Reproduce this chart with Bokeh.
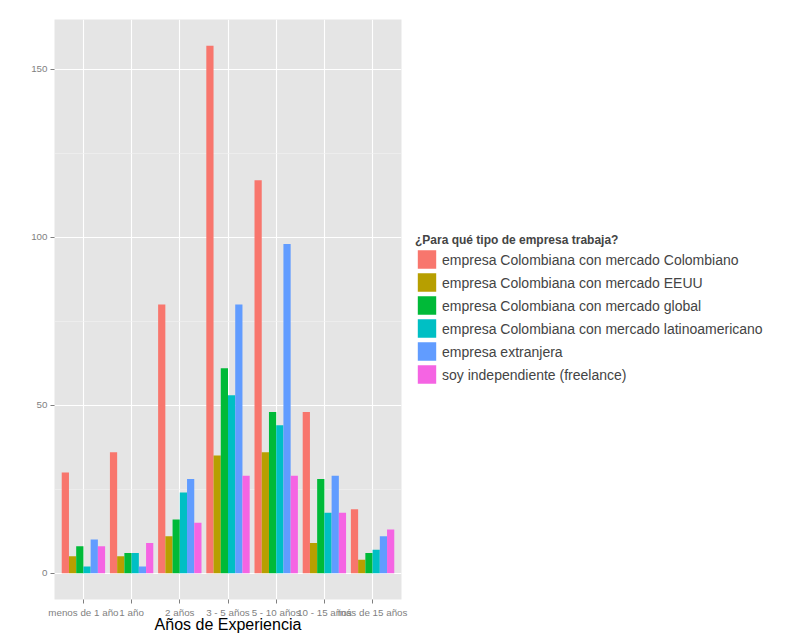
from bokeh.plotting import figure
from bokeh.models import Range1d, FixedTicker, Legend, LegendItem, ColumnDataSource
from bokeh.transform import dodge
from bokeh.embed import file_html
from bokeh.resources import INLINE

categories = ["menos de 1 año", "1 año", "2 años", "3 - 5 años",
              "5 - 10 años", "10 - 15 años", "más de 15 años"]
series_names = ["empresa Colombiana con mercado Colombiano",
                "empresa Colombiana con mercado EEUU",
                "empresa Colombiana con mercado global",
                "empresa Colombiana con mercado latinoamericano",
                "empresa extranjera",
                "soy independiente (freelance)"]
col_colombiano = [30, 36, 80, 157, 117, 48, 19]
col_eeuu = [5, 5, 11, 35, 36, 9, 4]
col_global = [8, 6, 16, 61, 48, 28, 6]
col_latam = [2, 6, 24, 53, 44, 18, 7]
extranjera = [10, 2, 28, 80, 98, 29, 11]
freelance = [8, 9, 15, 29, 29, 18, 13]
y_ticks = [0, 50, 100, 150]
colors = ["#F8766D", "#B79F00", "#00BA38", "#00BFC4", "#619CFF", "#F564E3"]

series = [col_colombiano, col_eeuu, col_global, col_latam, extranjera, freelance]
xpos = list(range(1, len(categories) + 1))
src = ColumnDataSource(dict(x=xpos, s0=series[0], s1=series[1], s2=series[2],
                            s3=series[3], s4=series[4], s5=series[5]))

ymax = max(max(s) for s in series)
pad = ymax * 0.05

p = figure(frame_width=347, frame_height=580,
           x_range=Range1d(0.4, len(categories) + 0.6),
           y_range=Range1d(-pad, ymax + pad),
           output_backend="svg", toolbar_location=None,
           min_border_left=54, min_border_top=19, min_border_bottom=40,
           min_border_right=10)
p.background_fill_color = "#E5E5E5"
p.border_fill_color = "white"
p.outline_line_color = None

bw = 0.9 / 6
items = []
for j in range(6):
    off = -0.45 + bw / 2 + bw * j
    r = p.vbar(x=dodge("x", off, range=p.x_range), top="s%d" % j, bottom=0,
               width=bw, source=src, fill_color=colors[j], line_color=None)
    items.append(LegendItem(label=series_names[j], renderers=[r]))

# axes
p.xaxis.ticker = FixedTicker(ticks=xpos)
p.xaxis.major_label_overrides = {i: c for i, c in zip(xpos, categories)}
p.yaxis.ticker = FixedTicker(ticks=y_ticks, minor_ticks=[25, 75, 125])
for ax in (p.xaxis[0], p.yaxis[0]):
    ax.axis_line_color = None
    ax.major_tick_line_color = "#7F7F7F"
    ax.major_tick_out = 4
    ax.major_tick_in = 0
    ax.minor_tick_line_color = None
    ax.major_label_text_color = "#7F7F7F"
    ax.major_label_text_font = "Liberation Sans"
    ax.major_label_text_font_size = "9.8px"
p.yaxis.major_label_standoff = 3
p.xaxis.major_label_standoff = 3
p.xaxis.axis_label = "Años de Experiencia"
p.xaxis.axis_label_text_font = "Liberation Sans"
p.xaxis.axis_label_text_font_size = "16px"
p.xaxis.axis_label_text_font_style = "normal"
p.xaxis.axis_label_text_color = "black"
p.xaxis.axis_label_standoff = -5

p.xgrid.grid_line_color = "white"
p.xgrid.grid_line_width = 1.1
p.ygrid.grid_line_color = "white"
p.ygrid.grid_line_width = 1.1
p.ygrid.minor_grid_line_color = "#F2F2F2"
p.ygrid.minor_grid_line_width = 0.6

legend = Legend(items=items, location="center_left",
                title="¿Para qué tipo de empresa trabaja?",
                title_text_font="Liberation Sans", title_text_font_size="12px",
                title_text_font_style="bold", title_standoff=1,
                label_text_font="Liberation Sans", label_text_font_size="14px",
                glyph_width=23, glyph_height=23, label_height=23,
                label_standoff=4, spacing=0, padding=0, margin=14,
                border_line_color=None, background_fill_alpha=0)
p.add_layout(legend, "right")

open("out.html", "w").write(file_html(p, INLINE))
